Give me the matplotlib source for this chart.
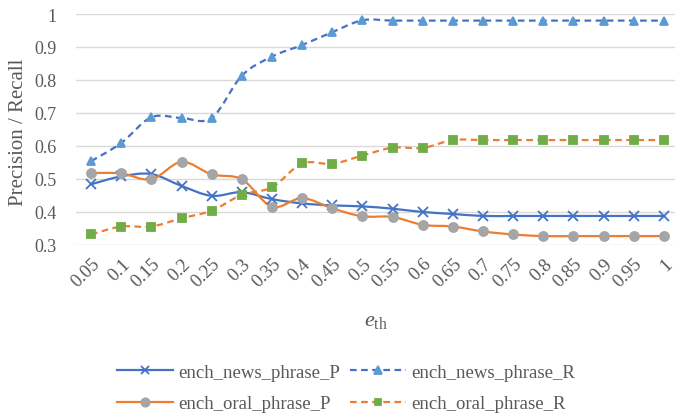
import matplotlib
import numpy as np

matplotlib.use("Agg", force=True)
import matplotlib.pyplot as plt
from matplotlib.lines import Line2D
from matplotlib.patches import PathPatch
from matplotlib.path import Path


thresholds = ["0.05", "0.1", "0.15", "0.2", "0.25", "0.3", "0.35", "0.4", "0.45", "0.5",
              "0.55", "0.6", "0.65", "0.7", "0.75", "0.8", "0.85", "0.9", "0.95", "1"]

news_p = [0.484, 0.508, 0.515, 0.479, 0.449, 0.460, 0.439, 0.426, 0.420, 0.417,
          0.410, 0.400, 0.394, 0.388, 0.388, 0.388, 0.388, 0.388, 0.388, 0.388]
news_r = [0.554, 0.609, 0.687, 0.685, 0.685, 0.813, 0.871, 0.906, 0.945, 0.981,
          0.980, 0.980, 0.980, 0.980, 0.980, 0.980, 0.980, 0.980, 0.980, 0.980]
oral_p = [0.518, 0.517, 0.499, 0.552, 0.514, 0.499, 0.416, 0.442, 0.411, 0.387,
          0.385, 0.361, 0.356, 0.341, 0.332, 0.327, 0.327, 0.327, 0.327, 0.327]
oral_r = [0.332, 0.356, 0.356, 0.381, 0.404, 0.452, 0.475, 0.547, 0.546, 0.571,
          0.595, 0.594, 0.618, 0.618, 0.618, 0.618, 0.618, 0.618, 0.618, 0.618]

SERIF = ["Liberation Serif", "DejaVu Serif"]
TEXT_COLOR = "#595959"
plt.rcParams["font.family"] = SERIF
plt.rcParams["mathtext.fontset"] = "custom"
plt.rcParams["mathtext.rm"] = "Liberation Serif"
plt.rcParams["mathtext.it"] = "Liberation Serif:italic"


def smooth_path(x, y):
    # Catmull-Rom style bezier, like a spreadsheet "smoothed line"
    pts = np.column_stack([x, y])
    n = len(pts)
    verts = [pts[0]]
    codes = [Path.MOVETO]
    for i in range(n - 1):
        p0 = pts[max(i - 1, 0)]
        p1 = pts[i]
        p2 = pts[i + 1]
        p3 = pts[min(i + 2, n - 1)]
        c1 = p1 + (p2 - p0) / 6.0
        c2 = p2 - (p3 - p1) / 6.0
        verts.extend([c1, c2, p2])
        codes.extend([Path.CURVE4] * 3)
    return Path(verts, codes)


fig = plt.figure(figsize=(6.75, 4.14), dpi=100)
ax = fig.add_axes([76 / 675, 1 - 246 / 414, 603 / 675, 231 / 414])

x = np.arange(len(thresholds))
series = [
    ("ench_news_phrase_P", news_p, "#4472C4", "solid", "x", "#4472C4", 6.5),
    ("ench_news_phrase_R", news_r, "#4472C4", "dashed", "^", "#5B9BD5", 6),
    ("ench_oral_phrase_P", oral_p, "#ED7D31", "solid", "o", "#A5A5A5", 6.5),
    ("ench_oral_phrase_R", oral_r, "#ED7D31", "dashed", "s", "#70AD47", 5.5),
]

handles = {}
for label, values, color, style, marker, mcolor, msize in series:
    dash = (0, (3, 2)) if style == "dashed" else "solid"
    patch = PathPatch(smooth_path(x, values), facecolor="none", edgecolor=color,
                      linewidth=1.6, linestyle=dash, zorder=3)
    ax.add_patch(patch)
    ax.plot(x, values, linestyle="none", marker=marker, markersize=msize,
            color=mcolor, markeredgecolor=mcolor, markeredgewidth=1.3, zorder=4)
    handles[label] = Line2D([], [], color=color, linestyle=dash, linewidth=1.6,
                            marker=marker, markersize=msize - 0.5, markerfacecolor=mcolor,
                            markeredgecolor=mcolor, markeredgewidth=1.3, label=label)

ax.set_xlim(-0.5, len(thresholds) - 0.5)
ax.set_ylim(0.3, 1.0)
ax.set_yticks(np.arange(0.3, 1.01, 0.1))
ax.set_yticklabels(["0.3", "0.4", "0.5", "0.6", "0.7", "0.8", "0.9", "1"],
                   fontfamily=SERIF, fontsize=13)
ax.set_xticks(x)
ax.set_xticklabels(thresholds, rotation=45, ha="right", rotation_mode="anchor",
                   fontfamily=SERIF, fontsize=13.5)
ax.tick_params(axis="both", length=0, colors=TEXT_COLOR)
ax.tick_params(axis="x", pad=7)
ax.tick_params(axis="y", pad=14)
ax.grid(axis="y", color="#D9D9D9", linewidth=1.0)
ax.set_axisbelow(True)
for spine in ax.spines.values():
    spine.set_visible(False)

fig.text(19 / 675, 1 - 132 / 414, "Precision / Recall", rotation=90, fontsize=15,
         color=TEXT_COLOR, ha="center", va="center")
fig.text(376 / 675, 1 - 322 / 414, r"$e_{\mathrm{th}}$", fontsize=16, color=TEXT_COLOR,
         ha="center", va="center")

order = ["ench_news_phrase_P", "ench_oral_phrase_P", "ench_news_phrase_R", "ench_oral_phrase_R"]
fig.legend(handles=[handles[k] for k in order], ncol=2, loc="center",
           bbox_to_anchor=(346 / 675, 1 - 389 / 414), frameon=False, fontsize=13.5,
           handlelength=3.0, columnspacing=0.5, handletextpad=0.3, labelspacing=0.75,
           labelcolor=TEXT_COLOR)

fig.savefig("out.png", dpi=100)
